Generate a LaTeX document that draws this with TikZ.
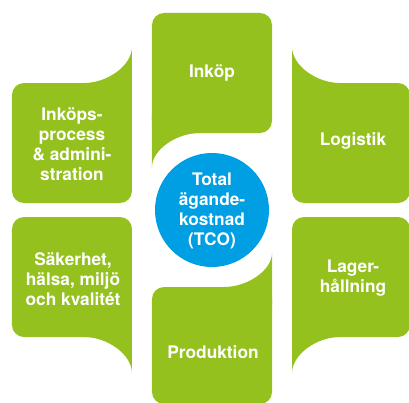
\documentclass[tikz,border=0pt]{standalone}
\usepackage{fontspec}
\setmainfont{TeX Gyre Heros}
\definecolor{tcogreen}{HTML}{95C11F}
\definecolor{tcoblue}{HTML}{009FE3}
\begin{document}
\begin{tikzpicture}[x=1pt, y=1pt,
        tile/.style={fill=tcogreen, rounded corners=12pt},
        fin/.style={fill=tcogreen},
        word/.style={text=white, align=center, inner sep=0pt,
            font=\bfseries\fontsize{17.3}{20}\selectfont},
        hub/.style={circle, fill=tcoblue, minimum size=114pt, inner sep=0pt}]
    \useasboundingbox (-212, -192) rectangle (197, 210);
    % top and bottom tiles
    \fill[tile] (-60, 77) rectangle (60, 197);
    \fill[fin] (-60, 43) -- (-60, 95) -- (-12, 95) -- (-12, 77)
        .. controls (-36, 77) and (-60, 60) .. (-60, 43);
    \fill[tile] (-60, -194) rectangle (60, -77);
    \fill[fin] (60, -43) -- (60, -95) -- (12, -95) -- (12, -77)
        .. controls (36, -77) and (60, -60) .. (60, -43);
    % left tiles
    \fill[tile] (-200, 7) rectangle (-80, 127);
    \fill[fin] (-80, 163) -- (-80, 109) -- (-128, 109) -- (-128, 127)
        .. controls (-104, 127) and (-80, 145) .. (-80, 163);
    \fill[tile] (-200, -127) rectangle (-80, -7);
    \fill[fin] (-80, -163) -- (-80, -109) -- (-128, -109) -- (-128, -127)
        .. controls (-104, -127) and (-80, -145) .. (-80, -163);
    % right tiles
    \fill[tile] (80, 7) rectangle (198, 127);
    \fill[fin] (80, 163) -- (80, 109) -- (128, 109) -- (128, 127)
        .. controls (104, 127) and (80, 145) .. (80, 163);
    \fill[tile] (80, -127) rectangle (198, -7);
    \fill[fin] (80, -163) -- (80, -109) -- (128, -109) -- (128, -127)
        .. controls (104, -127) and (80, -145) .. (80, -163);
    % labels
    \node[hub] (tco) at (0, 0) {};
    \node[word] (total) at (0, -1) {Total\\ägande-\\kostnad\\(TCO)};
    \node[word] (inkop) at (0, 137) {Inköp};
    \node[word] (process) at (-140, 66) {Inköps-\\process\\\& admini-\\stration};
    \node[word] (logistik) at (141, 69) {Logistik};
    \node[word] (sakerhet) at (-139, -69) {Säkerhet,\\hälsa, miljö\\och kvalitét};
    \node[word] (lager) at (141, -68) {Lager-\\hållning};
    \node[word] (produktion) at (1, -142) {Produktion};
\end{tikzpicture}
\end{document}
